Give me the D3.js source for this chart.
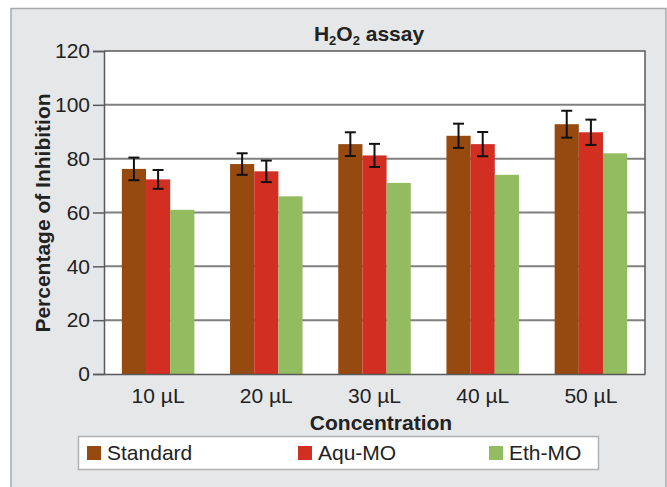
<!DOCTYPE html>
<html>
<head>
<meta charset="utf-8">
<script src="https://cdn.jsdelivr.net/npm/d3@7"></script>
<style>
  body { margin: 0; background: #fff; }
  text { font-family: "Liberation Sans", Arial, Helvetica, sans-serif; }
</style>
</head>
<body>
<script>
// Data
let concentrations = ["10 µL", "20 µL", "30 µL", "40 µL", "50 µL"];
let seriesNames = ["Standard", "Aqu-MO", "Eth-MO"];
let standard = [76.2, 78.0, 85.4, 88.5, 92.8];
let standardErr = [4.2, 4.0, 4.4, 4.5, 5.0];
let aquMO = [72.3, 75.3, 81.2, 85.4, 89.8];
let aquErr = [3.5, 4.0, 4.3, 4.5, 4.7];
let ethMO = [61.0, 66.0, 71.0, 74.0, 82.0];
let yTicks = [0, 20, 40, 60, 80, 100, 120];

let colors = ["#964a10", "#d22e22", "#93bb5f"];

let W = 667, H = 487;
let plot = {left: 104, right: 645, top: 51, bottom: 374};

let svg = d3.select("body").append("svg")
            .attr("width", W)
            .attr("height", H);

// grey panel behind everything
svg.append("rect")
   .attr("x", 11).attr("y", 8.5)
   .attr("width", 655).attr("height", 490)
   .attr("fill", "#e6e7e9")
   .attr("stroke", "#a8a9ab")
   .attr("stroke-width", 1.5);

// white plot area
svg.append("rect")
   .attr("x", plot.left).attr("y", plot.top)
   .attr("width", plot.right - plot.left)
   .attr("height", plot.bottom - plot.top)
   .attr("fill", "#fff");

let x = d3.scaleBand()
          .domain(concentrations)
          .range([plot.left, plot.right])
          .paddingInner(0.33)
          .paddingOuter(0.165);

let xSub = d3.scaleBand()
             .domain(seriesNames)
             .range([0, x.bandwidth()]);

let y = d3.scaleLinear()
          .domain([0, 120])
          .range([plot.bottom, plot.top]);

// gridlines
svg.append("g")
   .selectAll("line")
   .data(yTicks.filter(d => d > 0 && d < 120))
   .enter()
   .append("line")
   .attr("x1", plot.left).attr("x2", plot.right)
   .attr("y1", d => y(d)).attr("y2", d => y(d))
   .attr("stroke", "#808080")
   .attr("stroke-width", 2);

// plot frame (top + right)
svg.append("path")
   .attr("d", `M${plot.left},${y(120)}H${plot.right}V${plot.bottom}`)
   .attr("fill", "none")
   .attr("stroke", "#5a5a5a")
   .attr("stroke-width", 1.5);

// bars
let rows = concentrations.map((c, i) => [
    {c: c, s: seriesNames[0], v: standard[i], e: standardErr[i]},
    {c: c, s: seriesNames[1], v: aquMO[i], e: aquErr[i]},
    {c: c, s: seriesNames[2], v: ethMO[i], e: null}
]).flat();

svg.append("g")
   .selectAll("rect")
   .data(rows)
   .enter()
   .append("rect")
   .attr("x", d => x(d.c) + xSub(d.s))
   .attr("y", d => y(d.v))
   .attr("width", xSub.bandwidth())
   .attr("height", d => y(0) - y(d.v))
   .attr("fill", d => colors[seriesNames.indexOf(d.s)]);

// error bars
let errs = svg.append("g")
              .selectAll("g")
              .data(rows.filter(d => d.e !== null))
              .enter()
              .append("g")
              .attr("stroke", "#111")
              .attr("stroke-width", 2);

let cx = d => x(d.c) + xSub(d.s) + xSub.bandwidth() / 2;
errs.append("line")
    .attr("x1", cx).attr("x2", cx)
    .attr("y1", d => y(d.v + d.e)).attr("y2", d => y(d.v - d.e));
errs.append("line")
    .attr("x1", d => cx(d) - 5.5).attr("x2", d => cx(d) + 5.5)
    .attr("y1", d => y(d.v + d.e)).attr("y2", d => y(d.v + d.e));
errs.append("line")
    .attr("x1", d => cx(d) - 5.5).attr("x2", d => cx(d) + 5.5)
    .attr("y1", d => y(d.v - d.e)).attr("y2", d => y(d.v - d.e));

// y axis
let yAxis = svg.append("g")
   .attr("transform", `translate(${plot.left},0)`)
   .call(d3.axisLeft(y).tickValues(yTicks).tickSize(11).tickPadding(3));
yAxis.select(".domain").attr("stroke", "#5a5a5a").attr("stroke-width", 1.5);
yAxis.selectAll(".tick line").attr("stroke", "#5a5a5a").attr("stroke-width", 1.5);
yAxis.selectAll("text")
     .attr("font-size", 21)
     .attr("fill", "#222")
     .style("font-family", "'Liberation Sans', Arial, sans-serif");

// x axis
let xAxis = svg.append("g")
   .attr("transform", `translate(0,${plot.bottom})`)
   .call(d3.axisBottom(x).tickSize(0).tickPadding(14));
xAxis.select(".domain").attr("stroke", "#5a5a5a").attr("stroke-width", 1.5);
xAxis.selectAll("text")
     .attr("font-size", 21)
     .attr("fill", "#222")
     .style("font-family", "'Liberation Sans', Arial, sans-serif");

// title
let title = svg.append("text")
   .attr("x", 369).attr("y", 41)
   .attr("text-anchor", "middle")
   .attr("font-size", 21)
   .attr("font-weight", "bold")
   .attr("fill", "#222");
title.append("tspan").text("H");
title.append("tspan").text("2").attr("font-size", 13).attr("dy", 4);
title.append("tspan").text("O").attr("dy", -4);
title.append("tspan").text("2").attr("font-size", 13).attr("dy", 4);
title.append("tspan").text(" assay").attr("dy", -4);

// axis titles
svg.append("text")
   .attr("transform", `translate(50,213) rotate(-90)`)
   .attr("text-anchor", "middle")
   .attr("font-size", 21)
   .attr("font-weight", "bold")
   .attr("fill", "#222")
   .text("Percentage of Inhibition");

svg.append("text")
   .attr("x", 381).attr("y", 430)
   .attr("text-anchor", "middle")
   .attr("font-size", 21)
   .attr("font-weight", "bold")
   .attr("fill", "#222")
   .text("Concentration");

// legend
let legend = svg.append("g");
legend.append("rect")
      .attr("x", 78.5).attr("y", 436.5)
      .attr("width", 520).attr("height", 33)
      .attr("fill", "#fff")
      .attr("stroke", "#b0b0b0")
      .attr("stroke-width", 1.5);

let legendX = [87, 298, 489];
let items = legend.selectAll("g.item")
      .data(seriesNames)
      .enter()
      .append("g")
      .attr("class", "item")
      .attr("transform", (d, i) => `translate(${legendX[i]},446)`);
items.append("rect")
     .attr("width", 14).attr("height", 14)
     .attr("fill", (d, i) => colors[i]);
items.append("text")
     .attr("x", 20).attr("y", 14)
     .attr("font-size", 21)
     .attr("fill", "#222")
     .text(d => d);
</script>
</body>
</html>
